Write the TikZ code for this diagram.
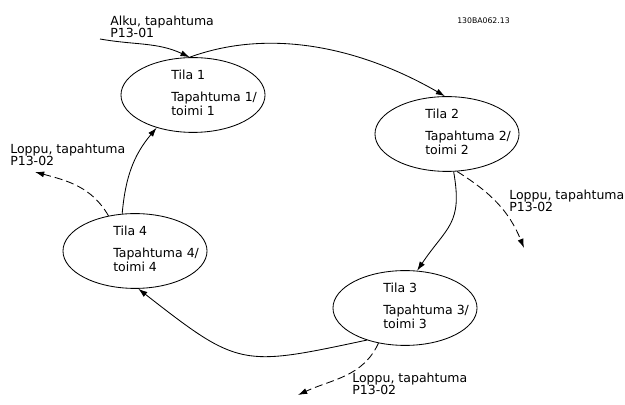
\documentclass[tikz,border=0pt]{standalone}
\usepackage{fontspec}
\setmainfont{DejaVu Sans}
\usepackage{tikz}
\usetikzlibrary{
  arrows.meta,
  positioning,
  shapes.geometric,
  calc,
}
\tikzset{
  stateEllipse/.style={
    ellipse, draw=black, line width=0.6pt, inner sep=0pt,
    minimum width=3.6cm, minimum height=1.87cm,
  },
  stateText/.style={
    anchor=west, inner sep=0pt, align=left,
    font=\fontsize{8.9pt}{8.6pt}\selectfont,
  },
  exitLbl/.style={
    anchor=north west, inner sep=0pt, align=left,
    font=\fontsize{8.9pt}{8.6pt}\selectfont,
  },
  codeLbl/.style={
    anchor=north west, inner sep=0pt, font=\fontsize{5.5pt}{6pt}\selectfont,
  },
  arrowSolid/.style={
    -{Latex[length=2.3mm,width=1.5mm]}, line width=0.6pt, draw=black,
  },
  arrowExit/.style={
    arrowSolid, dash pattern=on 2mm off 1mm,
  },
}

\begin{document}
\begin{tikzpicture}[x=0.025cm, y=0.025cm]
\useasboundingbox (0,0) rectangle (625,-405);

% states
\foreach \i/\cx/\cy in {1/193/-95, 2/447/-134, 3/405/-308, 4/135/-251}
{
  \node[stateEllipse] (s\i) at (\cx,\cy) {};
  \node[stateText] (s\i txt) at ($(s\i)+(-22,2)$)
    {Tila \i\\[0.25cm]Tapahtuma \i/\\toimi \i};
}

\node[codeLbl] (code) at (457,-17.5) {130BA062.13};

\coordinate (alkuStart) at (100,-39);
\coordinate (loppu2End) at (524,-248);
\coordinate (loppu3End) at (298,-395);
\coordinate (loppu4End) at (35,-172);

\node[exitLbl] (alkuLbl) at (110,-15.5) {Alku, tapahtuma\\P13-01};
\node[exitLbl] (loppu2Lbl) at (509,-190) {Loppu, tapahtuma\\P13-02};
\node[exitLbl] (loppu3Lbl) at (352,-373) {Loppu, tapahtuma\\P13-02};
\node[exitLbl] (loppu4Lbl) at (10,-144) {Loppu, tapahtuma\\P13-02};

% cycle
\draw[arrowSolid] (alkuStart) to[out=-10, in=155] (s1.95);
\draw[arrowSolid] (s1.95) to[out=20, in=150, looseness=0.9] (s2.93);
\draw[arrowSolid] (s2.280) to[out=-80, in=56, looseness=1.3] (s3.72);
\draw[arrowSolid] (s3.220) to[out=192, in=-38, looseness=1.4] (s4.275);
\draw[arrowSolid] (s4.109) to[out=85, in=230] (s1.222);

% exits
\draw[arrowExit] (s2.285) to[out=-32, in=112] (loppu2End);
\draw[arrowExit] (s3.233) to[out=245, in=25] (loppu3End);
\draw[arrowExit] (s4.127) to[out=120, in=-15] (loppu4End);

\end{tikzpicture}
\end{document}
